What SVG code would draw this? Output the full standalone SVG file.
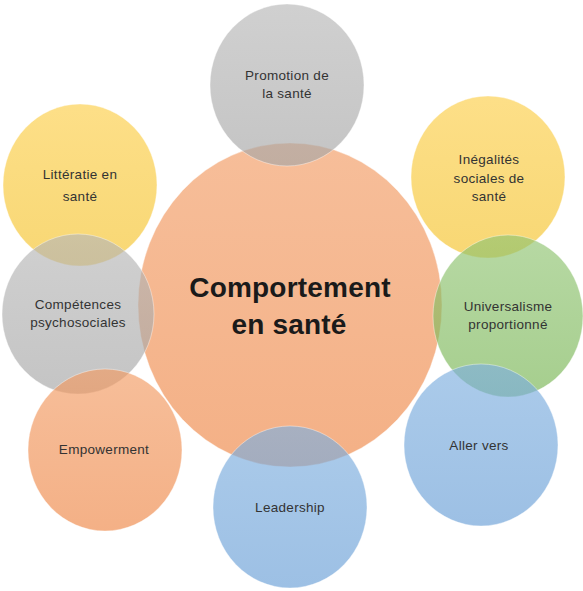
<svg xmlns="http://www.w3.org/2000/svg" width="583" height="591" viewBox="0 0 583 591">
<defs>
<linearGradient id="gO" x1="0" y1="0" x2="0" y2="1"><stop offset="0" stop-color="#F29B63"/><stop offset="1" stop-color="#EE8645"/></linearGradient>
<linearGradient id="gG" x1="0" y1="0" x2="0" y2="1"><stop offset="0" stop-color="#B7B7B7"/><stop offset="1" stop-color="#A5A5A5"/></linearGradient>
<linearGradient id="gY" x1="0" y1="0" x2="0" y2="1"><stop offset="0" stop-color="#FCCE48"/><stop offset="1" stop-color="#F4C229"/></linearGradient>
<linearGradient id="gGr" x1="0" y1="0" x2="0" y2="1"><stop offset="0" stop-color="#90C472"/><stop offset="1" stop-color="#76B451"/></linearGradient>
<linearGradient id="gB" x1="0" y1="0" x2="0" y2="1"><stop offset="0" stop-color="#7EAFDF"/><stop offset="1" stop-color="#689ED6"/></linearGradient>
</defs>
<style>
ellipse{fill-opacity:0.65;stroke:#ffffff;stroke-width:1;stroke-opacity:0.4}
.o{fill:url(#gO)}.g{fill:url(#gG)}.y{fill:url(#gY)}.gr{fill:url(#gGr)}.b{fill:url(#gB)}
text{font-family:"Liberation Sans",Arial,sans-serif;font-size:13.5px;fill:#333333;text-anchor:middle;letter-spacing:0.3px}
.main{font-size:28px;font-weight:bold;fill:#1a1a1a;letter-spacing:0.2px}
</style>
<g id="center"><ellipse class="o" cx="290" cy="305" rx="152" ry="162"/></g>
<g id="promotion"><ellipse class="g" cx="287" cy="85" rx="77" ry="81"/>
<text x="287" y="80">Promotion de</text><text x="287" y="98">la santé</text></g>
<g id="litteratie"><ellipse class="y" cx="80" cy="185" rx="77" ry="81"/>
<text x="80" y="179">Littératie en</text><text x="80" y="201">santé</text></g>
<g id="inegalites"><ellipse class="y" cx="488" cy="177" rx="77" ry="81"/>
<text x="489" y="164">Inégalités</text><text x="489" y="183">sociales de</text><text x="489" y="201">santé</text></g>
<g id="competences"><ellipse class="g" cx="78" cy="314" rx="76" ry="80"/>
<text x="78" y="309">Compétences</text><text x="78" y="327">psychosociales</text></g>
<g id="universalisme"><ellipse class="gr" cx="508" cy="316" rx="75" ry="81"/>
<text x="508" y="311">Universalisme</text><text x="508" y="329">proportionné</text></g>
<g id="empowerment"><ellipse class="o" cx="105" cy="450" rx="77" ry="81"/>
<text x="104" y="454">Empowerment</text></g>
<g id="allervers"><ellipse class="b" cx="481" cy="445" rx="77" ry="81"/>
<text x="479" y="450">Aller vers</text></g>
<g id="leadership"><ellipse class="b" cx="290" cy="507" rx="77" ry="81"/>
<text x="290" y="512">Leadership</text></g>
<g id="center-label"><text class="main" x="290" y="297">Comportement</text><text class="main" x="289" y="334">en santé</text></g>
<g id="connectors"/>
</svg>
